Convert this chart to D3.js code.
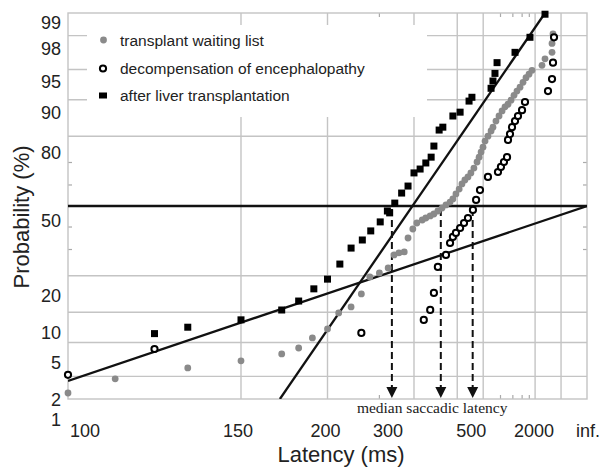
<!DOCTYPE html>
<html><head><meta charset="utf-8">
<script src="https://cdn.jsdelivr.net/npm/d3@7"></script>
<style>body{margin:0;background:#fff}svg{display:block}</style>
</head><body>
<svg id="c" width="604" height="467"></svg>
<script>
// ---- data (latency in ms, cumulative probability in %) ----
const waitingLat = [100,110,130,150,170,180,189,200,209,220,230,239,250,261,269,276,284,290,298,305,315,322,331,339,348,358,368,379,387,396,406,415,425,436,447,459,472,481,490,499,509,524,541,552,570,590,611,633,657,683,711,741,775,811,851,895,944,1153,1236,1484,1484,1527];
const waitingP   = [1.21,1.86,2.55,3.10,3.73,4.35,5.59,6.92,9.87,11.18,14.46,19.62,20.98,22.75,27.75,28.57,28.98,34.98,39.09,41.88,43.29,44.24,45.22,46.17,47.6,49.0,50.5,51.9,53.4,55.8,58.1,60.5,62.3,63.7,65.5,67.6,70.2,72.2,74.2,76.1,78.3,80.0,81.7,82.9,84.7,86.1,87.4,88.4,89.0,89.9,90.9,91.7,92.4,93.2,93.9,94.4,94.9,95.5,96.2,96.8,97.5,98.1];

const decompLat = [100,120,230,318,331,339,348,368,379,387,396,409,422,436,455,468,485,524,583,603,625,649,657,674,692,721,752,799,837,1331,1484,1527,1573];
const decompP   = [2.09,4.24,6.30,8.49,10.51,14.73,23.12,27.75,32.78,35.46,37.26,39.55,41.88,44.24,48.1,52.9,57.6,63.7,65.9,68.1,70.2,72.2,78.7,80.7,82.9,84.7,86.1,87.6,89.5,91.7,93.7,95.8,97.9];

const afterLat = [120,130,150,170,180,190,200,210,220,231,240,251,260,263,270,280,290,300,311,322,333,339,351,360,387,409,440,451,541,552,564,577,721,910,1236];
const afterP   = [6.2,7.2,8.5,10.5,12.6,15.9,18.9,24.2,30.6,34.1,38.2,42.4,47.6,46.7,51.4,56.2,59.5,65.5,67.2,69.8,72.2,76.5,82.0,82.9,86.1,87.1,89.7,90.5,92.2,93.4,94.5,95.8,96.8,97.9,98.96];

// fitted lines (latency ms, probability %)
const steepLat = [169, 1236], steepP = [1, 99];
const shallowLat = [100, Infinity], shallowP = [1.75, 50];
const medianLat = [266, 355, 454];

const xTickValues = [100,150,200,300,500,2000,Infinity];
const xTickLabels = ["100","150","200","300","500","2000","inf."];
const xGridValues = [150,200,300,400,500,1000,2000];
const xMinorValues = [250,600,700,800,900];
const yTickValues = [99,98,95,90,80,50,20,10,5,2,1];
const yGridValues = [98,95,90,80,20,10,5,2];
const yMinorValues = [30,40,60,70];
const legendLabels = ["transplant waiting list","decompensation of encephalopathy","after liver transplantation"];

// ---- layout (not data) ----
const xLabelDx = [17,-3,-2,-26,-12,-27,1];
const yLabelDy = [10,13,12,13,16,15,20,20,20,23,21];

function probit(p){
  const a=[-3.969683028665376e+01,2.209460984245205e+02,-2.759285104469687e+02,1.383577518672690e+02,-3.066479806614716e+01,2.506628277459239e+00];
  const b=[-5.447609879822406e+01,1.615858368580409e+02,-1.556989798598866e+02,6.680131188771972e+01,-1.328068155288572e+01];
  const c=[-7.784894002430293e-03,-3.223964580411365e-01,-2.400758277161838e+00,-2.549732539343734e+00,4.374664141464968e+00,2.938163982698783e+00];
  const d=[7.784695709041462e-03,3.224671290700398e-01,2.445134137142996e+00,3.754408661907416e+00];
  const pl=0.02425, ph=1-pl;
  if(p<pl){const q=Math.sqrt(-2*Math.log(p));return (((((c[0]*q+c[1])*q+c[2])*q+c[3])*q+c[4])*q+c[5])/((((d[0]*q+d[1])*q+d[2])*q+d[3])*q+1);}
  if(p<=ph){const q=p-0.5,r=q*q;return (((((a[0]*r+a[1])*r+a[2])*r+a[3])*r+a[4])*r+a[5])*q/(((((b[0]*r+b[1])*r+b[2])*r+b[3])*r+b[4])*r+1);}
  const q=Math.sqrt(-2*Math.log(1-p));return -(((((c[0]*q+c[1])*q+c[2])*q+c[3])*q+c[4])*q+c[5])/((((d[0]*q+d[1])*q+d[2])*q+d[3])*q+1);
}

const L=68,R=587,T=13,B=399;
const xr = d3.scaleLinear().domain([-10,0]).range([L,R]);
const X = lat => xr(isFinite(lat) ? -1000/lat : 0);
const yr = d3.scaleLinear().domain([probit(0.01), probit(0.99)]).range([B,T]);
const Y = p => yr(probit(p/100));

const svg = d3.select("#c");
const gridCol = "#c4c4c4";
svg.append("defs").append("clipPath").attr("id","clip")
  .append("rect").attr("x",L).attr("y",T).attr("width",R-L).attr("height",B-T);

// grid
const g = svg.append("g");
g.selectAll(".vg").data(xGridValues).join("line")
  .attr("x1",d=>X(d)).attr("x2",d=>X(d)).attr("y1",T).attr("y2",B)
  .attr("stroke",gridCol).attr("stroke-width",1.4);
g.selectAll(".hg").data(yGridValues).join("line")
  .attr("x1",L).attr("x2",R).attr("y1",d=>Y(d)).attr("y2",d=>Y(d))
  .attr("stroke",gridCol).attr("stroke-width",1.4);
// minor ticks
g.selectAll(".mx").data(xMinorValues.flatMap(v=>[[v,T,T+4],[v,B-4,B]])).join("line")
  .attr("x1",d=>X(d[0])).attr("x2",d=>X(d[0])).attr("y1",d=>d[1]).attr("y2",d=>d[2])
  .attr("stroke","#aaa").attr("stroke-width",1.2);
g.selectAll(".my").data(yMinorValues.flatMap(v=>[[v,L,L+4],[v,R-4,R]])).join("line")
  .attr("x1",d=>d[1]).attr("x2",d=>d[2]).attr("y1",d=>Y(d[0])).attr("y2",d=>Y(d[0]))
  .attr("stroke","#aaa").attr("stroke-width",1.2);
// border
g.append("rect").attr("x",L).attr("y",T).attr("width",R-L).attr("height",B-T)
  .attr("fill","none").attr("stroke",gridCol).attr("stroke-width",1.4);

// legend background
svg.append("rect").attr("x",87).attr("y",25).attr("width",340).attr("height",92).attr("fill","#fff");

// fitted lines
const plot = svg.append("g").attr("clip-path","url(#clip)");
const line = d3.line().x(d=>X(d[0])).y(d=>Y(d[1]));
plot.append("path").datum([[100,50],[Infinity,50]]).attr("d",line)
  .attr("stroke","#111").attr("stroke-width",2.3).attr("fill","none");
plot.append("path").datum(steepLat.map((v,i)=>[v,steepP[i]])).attr("d",line)
  .attr("stroke","#111").attr("stroke-width",2.3).attr("fill","none");
plot.append("path").datum(shallowLat.map((v,i)=>[v,shallowP[i]])).attr("d",line)
  .attr("stroke","#111").attr("stroke-width",2.3).attr("fill","none");

// median arrows
const ma = svg.append("g");
ma.selectAll("line").data(medianLat).join("line")
  .attr("x1",d=>X(d)).attr("x2",d=>X(d)).attr("y1",Y(50)+3).attr("y2",B-12)
  .attr("stroke","#111").attr("stroke-width",2).attr("stroke-dasharray","7,4");
ma.selectAll("path").data(medianLat).join("path")
  .attr("d",d=>`M${X(d)-5.5},${B-12}L${X(d)+5.5},${B-12}L${X(d)},${B-1}Z`).attr("fill","#111");

// points
svg.append("g").selectAll("circle").data(waitingLat.map((v,i)=>[v,waitingP[i]])).join("circle")
  .attr("cx",d=>X(d[0])).attr("cy",d=>Y(d[1])).attr("r",3.4).attr("fill","#8a8a8a");
svg.append("g").selectAll("circle").data(decompLat.map((v,i)=>[v,decompP[i]])).join("circle")
  .attr("cx",d=>X(d[0])).attr("cy",d=>Y(d[1])).attr("r",3.1).attr("fill","#fff")
  .attr("stroke","#000").attr("stroke-width",2);
svg.append("g").selectAll("rect").data(afterLat.map((v,i)=>[v,afterP[i]])).join("rect")
  .attr("x",d=>X(d[0])-3.5).attr("y",d=>Y(d[1])-3.5).attr("width",7).attr("height",7).attr("fill","#000");

// legend
const lg = svg.append("g").attr("font-family","Liberation Sans, Arial, sans-serif").attr("font-size","15.5px").attr("fill","#222");
const lgY = [40, 68.5, 95.5];
lg.append("circle").attr("cx",103.5).attr("cy",lgY[0]).attr("r",3.4).attr("fill","#8a8a8a");
lg.append("circle").attr("cx",103).attr("cy",lgY[1]).attr("r",3.1).attr("fill","#fff").attr("stroke","#000").attr("stroke-width",2);
lg.append("rect").attr("x",99).attr("y",lgY[2]-3).attr("width",8).attr("height",6).attr("fill","#000");
lg.selectAll("text").data(legendLabels).join("text")
  .attr("x",120).attr("y",(d,i)=>lgY[i]+5.5).text(d=>d);

// tick labels
const tl = svg.append("g").attr("font-family","Liberation Sans, Arial, sans-serif").attr("font-size","18px").attr("fill","#222");
tl.selectAll(".xt").data(xTickValues).join("text")
  .attr("x",(d,i)=>X(d)+xLabelDx[i]).attr("y",437).attr("text-anchor","middle").text((d,i)=>xTickLabels[i]);
tl.selectAll(".yt").data(yTickValues).join("text")
  .attr("x",61).attr("y",(d,i)=>Y(d)+yLabelDy[i]+6.4).attr("text-anchor","end").text(d=>String(d));

// median text
svg.append("text").attr("x",X(medianLat[0])-35).attr("y",412.5)
  .attr("font-family","Liberation Serif, Times New Roman, serif").attr("font-size","15.5px").attr("fill","#222")
  .text("median saccadic latency");

// axis titles
svg.append("text").attr("x",341).attr("y",462).attr("text-anchor","middle")
  .attr("font-family","Liberation Sans, Arial, sans-serif").attr("font-size","22px").attr("fill","#222")
  .text("Latency (ms)");
svg.append("text").attr("transform","translate(29,217) rotate(-90)").attr("text-anchor","middle")
  .attr("font-family","Liberation Sans, Arial, sans-serif").attr("font-size","22px").attr("fill","#222")
  .text("Probability (%)");
</script>
</body></html>
